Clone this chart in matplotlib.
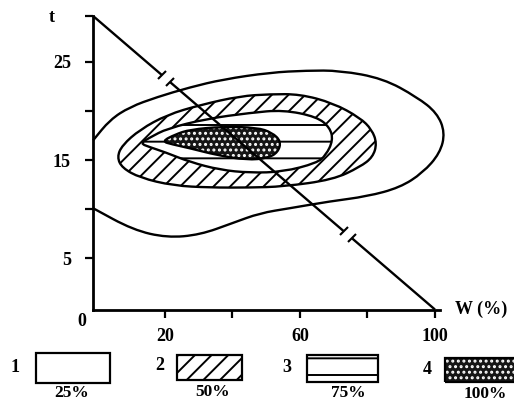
import numpy as np
import matplotlib
matplotlib.use("Agg")
import matplotlib.pyplot as plt
from matplotlib.path import Path
from matplotlib.patches import PathPatch, Rectangle
from matplotlib.markers import MarkerStyle
from matplotlib.transforms import Affine2D

plt.rcParams['font.family'] = ['Liberation Serif', 'DejaVu Serif']
plt.rcParams['hatch.linewidth'] = 1.4

# ---- data (W in %, t) ----
# 25% zone boundary (open curve, bounded by the t axis)
c25_w = [-1.3, 3.7, 9.6, 17.6, 27.4, 37.2, 51.1, 62.0, 71.9, 84.6, 94.7, 100.6,
         103.0, 101.5, 96.4, 89.6, 79.9, 68.9, 57.0, 48.1, 40.1, 30.4, 20.6, 10.5, -1.3]
c25_t = [17.0, 19.1, 20.4, 21.4, 22.4, 23.2, 23.9, 24.1, 24.1, 23.3, 21.4, 19.8,
         17.8, 15.7, 13.7, 12.2, 11.3, 10.8, 10.1, 9.6, 8.6, 7.4, 7.1, 7.9, 10.1]

# 50% zone boundary (closed)
c50_w = [5.8, 7.3, 12.6, 20.6, 30.4, 42.2, 51.1, 60.0, 69.8, 77.8, 81.3, 82.8,
         81.6, 77.8, 69.8, 55.0, 45.2, 33.3, 22.4, 12.6, 7.3]
c50_t = [15.3, 16.5, 18.1, 19.6, 20.6, 21.5, 21.7, 21.7, 20.8, 19.3, 18.1, 16.7,
         15.3, 14.3, 13.0, 12.3, 12.2, 12.2, 12.4, 13.2, 14.2]

# 75% zone boundary (closed)
c75_w = [12.6, 15.6, 20.6, 32.4, 45.2, 55.0, 65.0, 68.9, 69.8, 67.7, 65.0, 55.0,
         45.2, 36.3, 27.4, 20.0, 15.6]
c75_t = [16.7, 17.3, 18.2, 19.2, 19.8, 20.1, 19.4, 18.3, 17.0, 15.5, 14.7, 13.8,
         13.7, 14.0, 14.8, 15.8, 16.3]

# 100% zone boundary (closed)
c100_w = [19.1, 23.0, 27.4, 37.2, 47.3, 51.7, 54.4, 53.5, 50.5, 44.3, 35.4, 27.4, 22.1]
c100_t = [16.9, 17.6, 18.1, 18.4, 18.3, 17.8, 16.9, 15.8, 15.2, 15.0, 15.5, 16.2, 16.6]

# diagonal line and its break marks (fraction along the line)
diag_w = [-1.3, 100.0]
diag_t = [29.65, -0.2]
break_at = [0.213, 0.746]

x_ticks = [20, 40, 60, 80, 100]
x_labels = ['20', '', '60', '', '100']
y_ticks = [5, 10, 15, 20, 25, 29.65]
y_labels = ['5', '', '15', '', '25', '']

legend_ids = ['1', '2', '3', '4']
legend_pct = ['25%', '50%', '75%', '100%']


def spline_path(xs, ys, closed):
    p = np.column_stack([xs, ys]).astype(float)
    n = len(p)
    if closed:
        mids = (p + np.roll(p, -1, axis=0)) / 2
        verts = [mids[-1]]
        codes = [Path.MOVETO]
        for i in range(n):
            verts += [p[i], mids[i]]
            codes += [Path.CURVE3, Path.CURVE3]
        verts.append(mids[-1])
        codes.append(Path.CLOSEPOLY)
    else:
        mids = (p[:-1] + p[1:]) / 2
        verts = [p[0], mids[0]]
        codes = [Path.MOVETO, Path.LINETO]
        for i in range(1, n - 1):
            verts += [p[i], mids[i]]
            codes += [Path.CURVE3, Path.CURVE3]
        verts.append(p[-1])
        codes.append(Path.LINETO)
    return Path(np.array(verts), codes)


W, H = 514, 403
fig = plt.figure(figsize=(W / 100, H / 100), dpi=100)
ax = fig.add_axes([93 / W, 1 - 309.5 / H, 347 / W, 293.5 / H])
ax.set_xlim(-1.33, 101.5)
ax.set_ylim(-0.2, 29.65)

lw = 1.7
dark = '#151515'
# 25% outer curve
ax.add_patch(PathPatch(spline_path(c25_w, c25_t, False), fill=False,
                       edgecolor='black', lw=lw, clip_on=False, zorder=2))
# 50% zone
ax.add_patch(PathPatch(spline_path(c50_w, c50_t, True), facecolor='white',
                       edgecolor='black', hatch='//', lw=lw, zorder=3))
# 75% zone
ax.add_patch(PathPatch(spline_path(c75_w, c75_t, True), facecolor='white',
                       edgecolor='black', hatch='-', lw=lw, zorder=4))
# 100% zone
p100 = spline_path(c100_w, c100_t, True)
ax.add_patch(PathPatch(p100, facecolor=dark, edgecolor='white',
                       hatch='...', lw=0, zorder=5))
ax.add_patch(PathPatch(p100, fill=False, edgecolor='black', lw=lw, zorder=5.5))

# diagonal with breaks
fig.canvas.draw()
d0 = ax.transData.transform((diag_w[0], diag_t[0]))
d1 = ax.transData.transform((diag_w[1], diag_t[1]))
ang = np.degrees(np.arctan2(d1[1] - d0[1], d1[0] - d0[0]))
gap = 0.012
segs = [0.0]
for b in break_at:
    segs += [b - gap, b + gap]
segs.append(1.0)
mk = MarkerStyle('|', transform=Affine2D().rotate_deg(ang))
for i in range(0, len(segs), 2):
    a, b = segs[i], segs[i + 1]
    ws = [diag_w[0] + a * (diag_w[1] - diag_w[0]), diag_w[0] + b * (diag_w[1] - diag_w[0])]
    ts = [diag_t[0] + a * (diag_t[1] - diag_t[0]), diag_t[0] + b * (diag_t[1] - diag_t[0])]
    ax.plot(ws, ts, color='black', lw=lw, zorder=6, clip_on=False,
            solid_capstyle='butt')
    if i > 0:
        ax.plot([ws[0]], [ts[0]], marker=mk, color='black', ms=8, mew=1.5, zorder=6)
    if i + 2 < len(segs):
        ax.plot([ws[1]], [ts[1]], marker=mk, color='black', ms=8, mew=1.5, zorder=6)

for s in ['top', 'right']:
    ax.spines[s].set_visible(False)
for s in ['left', 'bottom']:
    ax.spines[s].set_linewidth(2.0)
ax.set_xticks(x_ticks, labels=x_labels)
ax.set_yticks(y_ticks, labels=y_labels)
ax.tick_params(axis='both', direction='out', length=6, width=1.6,
               labelsize=13)
ax.tick_params(axis='x', pad=7)
ax.tick_params(axis='y', pad=10)
for lab in ax.get_xticklabels() + ax.get_yticklabels():
    lab.set_fontweight('bold')

txt = dict(fontsize=13, fontweight='bold', color='black')
fig.text(82 / W, 1 - 322 / H, '0', ha='center', va='center', **txt)
fig.text(52 / W, 1 - 18 / H, 't', ha='center', va='center', **txt)
fig.text(455 / W, 1 - 309 / H, 'W (%)', ha='left', va='center', **txt)

# legend
hatches = [None, '//', '-', '...']
id_pos = [(15, 368), (160, 365), (287, 368), (427, 370)]
boxes = [(36, 353, 74, 30), (177, 355, 65, 25), (307, 355, 71, 27), (445, 358, 75, 24)]
pct_pos = [(72, 393), (213, 392), (348, 393), (485, 394)]
for k in range(4):
    x, y, w, h = boxes[k]
    rx, ry, rw, rh = x / W, 1 - (y + h) / H, w / W, h / H
    if k == 3:
        fig.add_artist(Rectangle((rx, ry), rw, rh, transform=fig.transFigure,
                                 facecolor=dark, edgecolor='white',
                                 hatch=hatches[k], lw=0))
        fig.add_artist(Rectangle((rx, ry), rw, rh, transform=fig.transFigure,
                                 fill=False, edgecolor='black', lw=1.6))
    else:
        fig.add_artist(Rectangle((rx, ry), rw, rh, transform=fig.transFigure,
                                 facecolor='white', edgecolor='black',
                                 hatch=hatches[k], lw=1.6))
    fig.text(id_pos[k][0] / W, 1 - id_pos[k][1] / H, legend_ids[k],
             ha='center', va='center', **txt)
    fig.text(pct_pos[k][0] / W, 1 - pct_pos[k][1] / H, legend_pct[k],
             ha='center', va='center', fontsize=12.5, fontweight='bold',
             color='black')

fig.savefig('out.png', dpi=100)
